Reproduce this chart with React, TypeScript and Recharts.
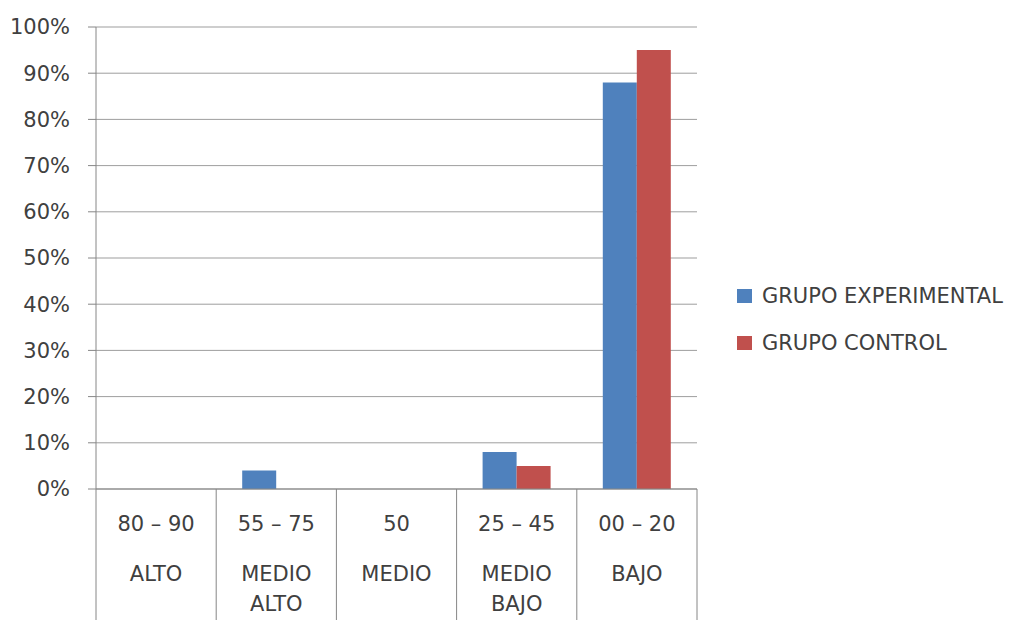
import { BarChart, Bar, XAxis, YAxis, CartesianGrid } from "recharts";

const rangos = ["80 – 90", "55 – 75", "50", "25 – 45", "00 – 20"];
const niveles = [["ALTO"], ["MEDIO", "ALTO"], ["MEDIO"], ["MEDIO", "BAJO"], ["BAJO"]];
const experimental = [0, 4, 0, 8, 88];
const control = [0, 0, 0, 5, 95];
const yTicks = [0, 10, 20, 30, 40, 50, 60, 70, 80, 90, 100];

const series = [
  { key: "experimental", name: "GRUPO EXPERIMENTAL", color: "#4F81BD" },
  { key: "control", name: "GRUPO CONTROL", color: "#C0504D" },
];

const data = rangos.map((r, i) => ({
  rango: r,
  experimental: experimental[i],
  control: control[i],
}));

const FONT = "'DejaVu Sans', sans-serif";
const TEXT = "#404040";
const LINE = "#868686";
const FS = 21;

function CategoryTick(props: any) {
  const { x, y, payload, index } = props;
  const half = payload.offset || 0;
  const lines = niveles[index] || [];
  return (
    <g>
      <line x1={x - half} y1={y} x2={x - half} y2={y + 131} stroke={LINE} strokeWidth={1} />
      {index === rangos.length - 1 && (
        <line x1={x + half} y1={y} x2={x + half} y2={y + 131} stroke={LINE} strokeWidth={1} />
      )}
      <text x={x} y={y + 36} textAnchor="middle" dominantBaseline="middle" fill={TEXT} fontSize={FS} fontFamily={FONT}>
        {payload.value}
      </text>
      {lines.map((l: string, j: number) => (
        <text key={j} x={x} y={y + 86 + j * 30} textAnchor="middle" dominantBaseline="middle" fill={TEXT} fontSize={FS} fontFamily={FONT}>
          {l}
        </text>
      ))}
    </g>
  );
}

function LegendBox() {
  return (
    <div style={{ position: "absolute", left: 737, top: 272, fontFamily: FONT, fontSize: FS, color: TEXT }}>
      {series.map((s) => (
        <div key={s.key} style={{ display: "flex", alignItems: "center", height: 47 }}>
          <span style={{ display: "inline-block", width: 15, height: 14, background: s.color, marginRight: 10 }} />
          <span style={{ whiteSpace: "nowrap" }}>{s.name}</span>
        </div>
      ))}
    </div>
  );
}

export default function App() {
  return (
    <div style={{ position: "fixed", left: 0, top: 0, width: 1017, height: 620, overflow: "hidden", background: "#fff" }}>
      <BarChart
        width={1017}
        height={620}
        data={data}
        margin={{ top: 27, right: 320, bottom: 0, left: 0 }}
        barGap={0}
        barCategoryGap={26}
      >
        <CartesianGrid vertical={false} stroke={LINE} strokeOpacity={0.8} />
        <YAxis
          domain={[0, 100]}
          ticks={yTicks}
          width={96}
          tickSize={8}
          tickMargin={18}
          tickFormatter={(v: number) => `${v}%`}
          axisLine={{ stroke: LINE }}
          tickLine={{ stroke: LINE }}
          tick={{ fill: TEXT, fontSize: FS, fontFamily: FONT }}
          interval={0}
        />
        <XAxis
          dataKey="rango"
          height={131}
          interval={0}
          tickLine={false}
          tickSize={0}
          tickMargin={0}
          axisLine={{ stroke: LINE }}
          tick={<CategoryTick />}
        />
        {series.map((s) => (
          <Bar key={s.key} dataKey={s.key} name={s.name} fill={s.color} isAnimationActive={false} />
        ))}
      </BarChart>
      <LegendBox />
    </div>
  );
}
